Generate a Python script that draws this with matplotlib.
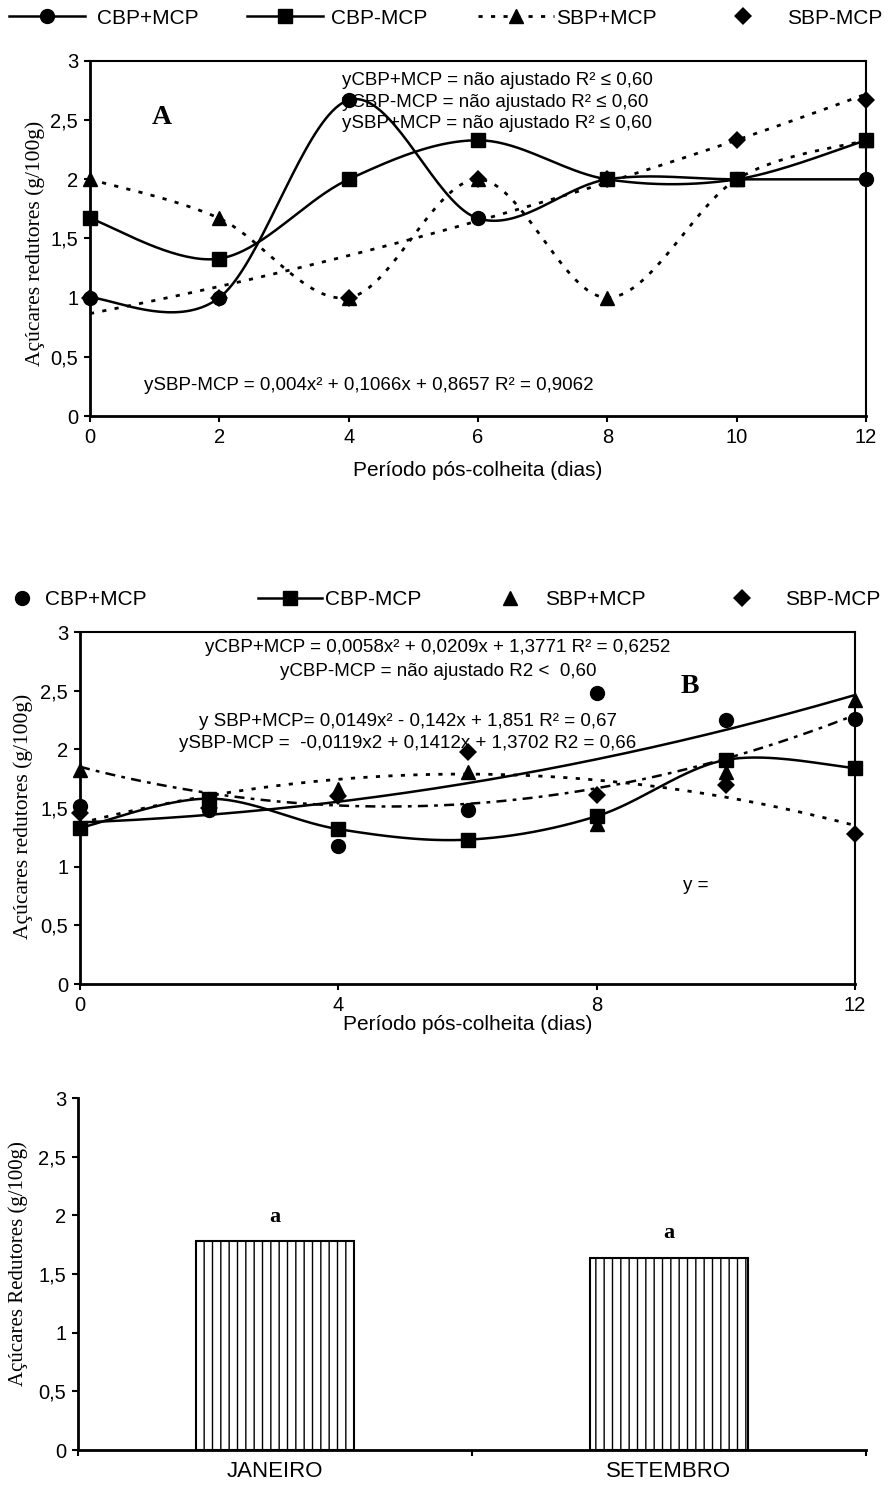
import numpy as np
import matplotlib
matplotlib.use('Agg')
from matplotlib import pyplot as plt
from matplotlib.lines import Line2D

plt.rcParams['font.family'] = ['Liberation Sans', 'DejaVu Sans']
SERIF = ['Liberation Serif', 'DejaVu Serif']

W, H = 892, 1495

# dias pós-colheita
dias = [0, 2, 4, 6, 8, 10, 12]

# Painel A
a_cbp_mais = [1.0, 1.0, 2.67, 1.67, 2.0, 2.0, 2.0]
a_cbp_menos = [1.67, 1.33, 2.0, 2.33, 2.0, 2.0, 2.33]
a_sbp_mais = [2.0, 1.67, 1.0, 2.0, 1.0, 2.0, 2.33]
a_sbp_menos = [1.0, 1.0, 1.0, 2.0, 2.0, 2.33, 2.67]
a_coef_sbp_menos = [0.004, 0.1066, 0.8657]

# Painel B
b_cbp_mais = [1.52, 1.48, 1.18, 1.48, 2.48, 2.25, 2.26]
b_cbp_menos = [1.33, 1.58, 1.32, 1.23, 1.43, 1.91, 1.84]
b_sbp_mais = [1.82, 1.57, 1.66, 1.81, 1.36, 1.81, 2.42]
b_sbp_menos = [1.46, 1.50, 1.60, 1.98, 1.61, 1.70, 1.28]
b_coef_cbp_mais = [0.0058, 0.0209, 1.3771]
b_coef_sbp_mais = [0.0149, -0.142, 1.851]
b_coef_sbp_menos = [-0.0119, 0.1412, 1.3702]

# Médias por época
meses = ['JANEIRO', 'SETEMBRO']
media_mes = [1.78, 1.64]
letras = ['a', 'a']

yticks = [0, 0.5, 1, 1.5, 2, 2.5, 3]
yticklabels = ['0', '0,5', '1', '1,5', '2', '2,5', '3']


# linha suavizada (Catmull-Rom em forma de Bezier)
def suaviza(x, y, n=40):
	p = np.column_stack([x, y]).astype(float)
	out = [p[0]]
	t = np.linspace(0, 1, n)[1:, None]
	for i in range(len(p) - 1):
		p0 = p[i - 1] if i > 0 else p[i]
		p1, p2 = p[i], p[i + 1]
		p3 = p[i + 2] if i + 2 < len(p) else p[i + 1]
		c1 = p1 + (p2 - p0) / 6
		c2 = p2 - (p3 - p1) / 6
		seg = (1 - t)**3 * p1 + 3 * (1 - t)**2 * t * c1 + 3 * (1 - t) * t**2 * c2 + t**3 * p2
		out.extend(seg)
	out = np.array(out)
	return out[:, 0], out[:, 1]


def eixo(ax, caixa=True):
	ax.set_ylim(0, 3)
	ax.set_yticks(yticks)
	ax.set_yticklabels(yticklabels)
	for s in ['left', 'bottom']:
		ax.spines[s].set_linewidth(2.0)
	for s in ['top', 'right']:
		ax.spines[s].set_visible(caixa)
		ax.spines[s].set_linewidth(1.5)
	ax.tick_params(direction='out', length=4.5, width=1.5, labelsize=14.5, pad=4,
				   top=False, right=False)


def item_legenda(fig, handle, label, x0, hl, pad, yc):
	fs = 15
	em = fs * 100 / 72.
	fig.legend(handles=[handle], labels=[label], loc='center left',
			   bbox_to_anchor=(x0 / W, 1 - yc / H), frameon=False, borderpad=0,
			   borderaxespad=0, handlelength=hl / em, handletextpad=pad / em,
			   fontsize=fs, numpoints=1)


fig = plt.figure(figsize=(W / 100., H / 100.), dpi=100)

DOT = (0, (1.5, 3))
DASHDOT = (0, (4, 2.5, 1.5, 2.5))
ms = 10
msd = 9

# ---------- A ----------
axA = fig.add_axes([90 / W, 1 - 416. / H, 776. / W, 355. / H])
eixo(axA)
axA.set_xlim(0, 12)
axA.set_xticks(dias)

sx, sy = suaviza(dias, a_cbp_mais)
axA.plot(sx, sy, color='k', lw=1.8)
axA.plot(dias, a_cbp_mais, 'o', color='k', ms=ms, clip_on=False, zorder=5)
sx, sy = suaviza(dias, a_cbp_menos)
axA.plot(sx, sy, color='k', lw=1.8)
axA.plot(dias, a_cbp_menos, 's', color='k', ms=ms, clip_on=False, zorder=5)
sx, sy = suaviza(dias, a_sbp_mais)
axA.plot(sx, sy, color='k', lw=2, ls=DOT)
axA.plot(dias, a_sbp_mais, '^', color='k', ms=ms, clip_on=False, zorder=4)
xt = np.linspace(0, 12, 200)
axA.plot(xt, np.polyval(a_coef_sbp_menos, xt), color='k', lw=2, ls=DOT)
axA.plot(dias, a_sbp_menos, 'D', color='k', ms=msd, mew=0, clip_on=False, zorder=3)

axA.text(0.325, 0.944, 'yCBP+MCP = não ajustado R² ≤ 0,60', transform=axA.transAxes,
		 fontsize=13.5, ha='left', va='center')
axA.text(0.325, 0.882, 'yCBP-MCP = não ajustado R² ≤ 0,60', transform=axA.transAxes,
		 fontsize=13.5, ha='left', va='center')
axA.text(0.325, 0.825, 'ySBP+MCP = não ajustado R² ≤ 0,60', transform=axA.transAxes,
		 fontsize=13.5, ha='left', va='center')
axA.text(0.07, 0.087, 'ySBP-MCP = 0,004x² + 0,1066x + 0,8657 R² = 0,9062',
		 transform=axA.transAxes, fontsize=13.5, ha='left', va='center')
axA.text(0.093, 0.84, 'A', transform=axA.transAxes, fontsize=20, fontweight='bold',
		 family=SERIF, ha='center', va='center')
axA.set_xlabel('Período pós-colheita (dias)', fontsize=15, labelpad=10)
axA.set_ylabel('Açúcares redutores (g/100g)', fontsize=15.5, family=SERIF)
axA.yaxis.set_label_coords(-0.058, 0.485)

yc = 18
item_legenda(fig, Line2D([], [], color='k', lw=1.8, marker='o', ms=ms), 'CBP+MCP', 9, 76, 12, yc)
item_legenda(fig, Line2D([], [], color='k', lw=1.8, marker='s', ms=ms), 'CBP-MCP', 247, 76, 8, yc)
item_legenda(fig, Line2D([], [], color='k', lw=2, ls=DOT, marker='^', ms=ms), 'SBP+MCP', 478, 76, 2, yc)
item_legenda(fig, Line2D([], [], color='k', lw=0, marker='D', ms=msd, mew=0), 'SBP-MCP', 705, 76, 6, yc)

# ---------- B ----------
axB = fig.add_axes([80 / W, 1 - 984. / H, 775. / W, 352. / H])
eixo(axB)
axB.set_xlim(0, 12)
axB.set_xticks([0, 4, 8, 12])

axB.plot(xt, np.polyval(b_coef_cbp_mais, xt), color='k', lw=1.8)
axB.plot(dias, b_cbp_mais, 'o', color='k', ms=ms, clip_on=False, zorder=5)
sx, sy = suaviza(dias, b_cbp_menos)
axB.plot(sx, sy, color='k', lw=1.8)
axB.plot(dias, b_cbp_menos, 's', color='k', ms=ms, clip_on=False, zorder=5)
axB.plot(xt, np.polyval(b_coef_sbp_mais, xt), color='k', lw=1.8, ls=DASHDOT)
axB.plot(dias, b_sbp_mais, '^', color='k', ms=ms, clip_on=False, zorder=4)
axB.plot(xt, np.polyval(b_coef_sbp_menos, xt), color='k', lw=2, ls=DOT)
axB.plot(dias, b_sbp_menos, 'D', color='k', ms=msd, mew=0, clip_on=False, zorder=3)

axB.text(0.462, 0.955, 'yCBP+MCP = 0,0058x² + 0,0209x + 1,3771 R² = 0,6252',
		 transform=axB.transAxes, fontsize=13.5, ha='center', va='center')
axB.text(0.462, 0.889, 'yCBP-MCP = não ajustado R2 <  0,60',
		 transform=axB.transAxes, fontsize=13.5, ha='center', va='center')
axB.text(0.423, 0.747, 'y SBP+MCP= 0,0149x² - 0,142x + 1,851 R² = 0,67',
		 transform=axB.transAxes, fontsize=13.5, ha='center', va='center')
axB.text(0.423, 0.682, 'ySBP-MCP =  -0,0119x2 + 0,1412x + 1,3702 R2 = 0,66',
		 transform=axB.transAxes, fontsize=13.5, ha='center', va='center')
axB.text(0.787, 0.844, 'B', transform=axB.transAxes, fontsize=20, fontweight='bold',
		 family=SERIF, ha='center', va='center')
axB.text(0.795, 0.281, 'y =', transform=axB.transAxes, fontsize=13.5,
		 ha='center', va='center')
axB.set_xlabel('Período pós-colheita (dias)', fontsize=15, labelpad=0)
axB.set_ylabel('Açúcares redutores (g/100g)', fontsize=15.5, family=SERIF)
axB.yaxis.set_label_coords(-0.061, 0.477)

yc = 600
item_legenda(fig, Line2D([], [], color='k', lw=0, marker='o', ms=ms), 'CBP+MCP', 0, 44, 1, yc)
item_legenda(fig, Line2D([], [], color='k', lw=1.8, marker='s', ms=ms), 'CBP-MCP', 258, 64, 3, yc)
item_legenda(fig, Line2D([], [], color='k', lw=0, marker='^', ms=ms), 'SBP+MCP', 476, 68, 1, yc)
item_legenda(fig, Line2D([], [], color='k', lw=0, marker='D', ms=msd, mew=0), 'SBP-MCP', 700, 84, 1, yc)

# ---------- médias ----------
axC = fig.add_axes([78 / W, 1 - 1450. / H, 788. / W, 352. / H])
eixo(axC, caixa=False)
pos = np.arange(len(meses)) + 0.5
axC.bar(pos, media_mes, width=0.4, color='white', edgecolor='k', lw=1.5, hatch='||')
for p, v, l in zip(pos, media_mes, letras):
	axC.text(p, v + 0.21, l, fontsize=16, fontweight='bold', family=SERIF,
			 ha='center', va='center')
axC.set_xlim(0, len(meses))
axC.set_xticks(range(len(meses) + 1))
axC.set_xticklabels([])
axC.set_xticks(pos, minor=True)
axC.set_xticklabels(meses, minor=True, fontsize=16)
axC.tick_params(axis='x', which='minor', length=0, pad=8)
axC.set_ylabel('Açúcares Redutores (g/100g)', fontsize=15, family=SERIF)
axC.yaxis.set_label_coords(-0.063, 0.531)

fig.savefig('out.png', dpi=100)
